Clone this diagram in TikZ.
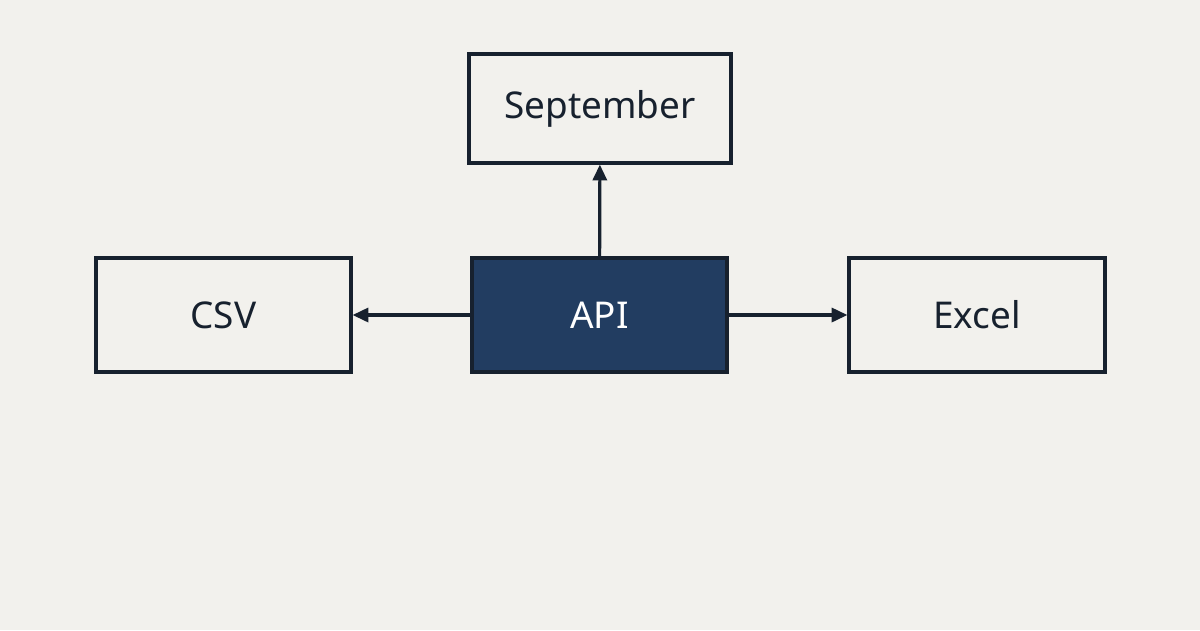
\documentclass[tikz,border=0pt]{standalone}
\usepackage{fontspec}
\setmainfont{Noto Sans}
\usetikzlibrary{arrows.meta}
\definecolor{bgcol}{HTML}{F2F1ED}
\definecolor{inkcol}{HTML}{17212E}
\definecolor{apicol}{HTML}{223D61}
\begin{document}
\begin{tikzpicture}[x=0.02cm, y=-0.02cm,
  box/.style={draw=inkcol, line width=1.8pt, fill=bgcol, text=inkcol,
    font=\fontsize{21}{25}\selectfont, inner sep=0pt},
  link/.style={draw=inkcol, line width=1.8pt, -{Triangle[length=9pt, width=8pt]}}]

% background
\fill[bgcol] (0,0) rectangle (1200,630);
\useasboundingbox (0,0) rectangle (1200,630);

% boxes
\node[box, minimum width=5.24cm, minimum height=2.18cm] (sept) at (600,108.5) {September};
\node[box, minimum width=5.1cm, minimum height=2.28cm] (csv) at (223.5,315) {CSV};
\node[box, minimum width=5.1cm, minimum height=2.28cm, fill=apicol, text=white] (api) at (599.5,315) {API};
\node[box, minimum width=5.12cm, minimum height=2.28cm] (excel) at (977,315) {Excel};

% connectors
\draw[link] (api) -- (sept);
\draw[link] (api) -- (csv);
\draw[link] (api) -- (excel);

\end{tikzpicture}
\end{document}
